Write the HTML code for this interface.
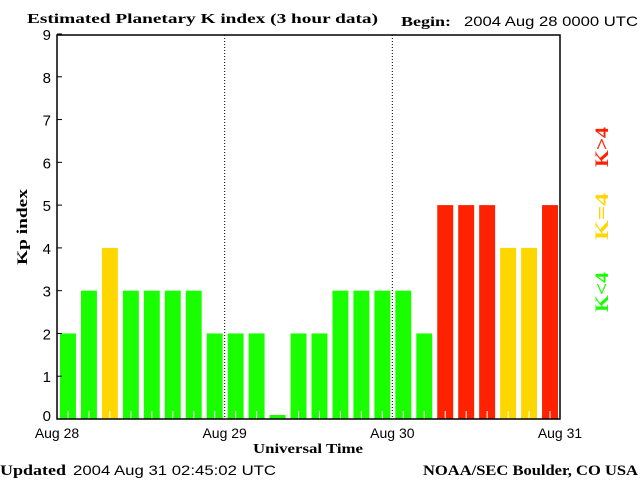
<!DOCTYPE html>
<html><head><meta charset="utf-8"><style>
body{margin:0;background:#fff}
svg{display:block}
.s{font-family:"Liberation Serif",serif;font-weight:bold}
.a{font-family:"Liberation Sans",sans-serif}
</style></head><body>
<svg id="c" width="640" height="480" xmlns="http://www.w3.org/2000/svg">
<rect width="640" height="480" fill="#fff"/>
<text class="s" x="27" y="23" font-size="14" textLength="351" lengthAdjust="spacingAndGlyphs">Estimated Planetary K index (3 hour data)</text>
<text class="s" x="401" y="26" font-size="14" textLength="50" lengthAdjust="spacingAndGlyphs">Begin:</text>
<text class="a" x="464" y="26" font-size="14" textLength="174" lengthAdjust="spacingAndGlyphs">2004 Aug 28 0000 UTC</text>
<g id="bars"></g>
<g id="ax"></g>
<rect x="57" y="35" width="503" height="384" fill="none" stroke="#000" stroke-width="1.5"/>
<text class="s" x="0" y="0" font-size="15" textLength="76" lengthAdjust="spacingAndGlyphs" transform="translate(27,265) rotate(-90)">Kp index</text>
<text class="s" x="253" y="453" font-size="14" textLength="110" lengthAdjust="spacingAndGlyphs">Universal Time</text>
<text class="s" x="0" y="475" font-size="15" textLength="66" lengthAdjust="spacingAndGlyphs">Updated</text>
<text class="a" x="73" y="475" font-size="14" textLength="203" lengthAdjust="spacingAndGlyphs">2004 Aug 31 02:45:02 UTC</text>
<text class="s" x="423" y="475" font-size="15" textLength="215" lengthAdjust="spacingAndGlyphs">NOAA/SEC Boulder, CO USA</text>
<text class="s" font-size="19" fill="#ff2200" textLength="40" lengthAdjust="spacingAndGlyphs" transform="translate(608,167) rotate(-90)">K&gt;4</text>
<text class="s" font-size="19" fill="#ffd700" textLength="47" lengthAdjust="spacingAndGlyphs" transform="translate(608,240) rotate(-90)">K=4</text>
<text class="s" font-size="19" fill="#1aff00" textLength="40" lengthAdjust="spacingAndGlyphs" transform="translate(608,312) rotate(-90)">K&lt;4</text>
</svg>
<script>
const kpValues=[2,3,4,3,3,3,3,2,2,2,0,2,2,3,3,3,3,2,5,5,5,4,4,5];
const yTicks=[0,1,2,3,4,5,6,7,8,9];
const dayLabels=["Aug 28","Aug 29","Aug 30","Aug 31"];
const NS="http://www.w3.org/2000/svg";
const X0=57,X1=560,Y0=419,Y9=34;
const xs=i=>X0+(X1-X0)*i/kpValues.length;
const ys=v=>Y0-(Y0-Y9)*v/9;
const bars=document.getElementById('bars'),ax=document.getElementById('ax');
function mk(t,a,p){const e=document.createElementNS(NS,t);for(const k in a)e.setAttribute(k,a[k]);p.appendChild(e);return e;}
const slot=(X1-X0)/kpValues.length;
kpValues.forEach((v,i)=>{
  const col=v>4?'#ff2200':v==4?'#ffd700':'#1aff00';
  const top=v==0?Y0-4:ys(v);
  const r=mk('rect',{x:xs(i)+3,y:top,width:slot-5,height:Y0-top,fill:col},bars);
  
  
  if(v>0){const t=mk('line',{x1:xs(i)+slot/2+0.5,x2:xs(i)+slot/2+0.5,y1:Y0-8,y2:Y0,stroke:'#fff'},bars);
  
  }
});
yTicks.forEach(v=>{
  const y=ys(v);
  const l=mk('line',{x1:X0,x2:X0+5,y1:y,y2:y,stroke:'#000'},ax);
  
  
  const t=mk('text',{x:X0-6,y:y+(v==0?2:6),'font-size':15,'text-anchor':'end','class':'a'},ax);
  t.textContent=v;
  
  
});
dayLabels.forEach((d,i)=>{
  const x=X0+(X1-X0)*i/3;
  if(i>0&&i<3){const l=mk('line',{x1:x,x2:x,y1:35,y2:Y0,stroke:'#000','stroke-dasharray':'1,2'},ax);
  
  }
  const t=mk('text',{x:x,y:438,'font-size':14,'text-anchor':'middle','class':'a'},ax);
  t.textContent=d;
  
  
});
</script>
</body></html>
